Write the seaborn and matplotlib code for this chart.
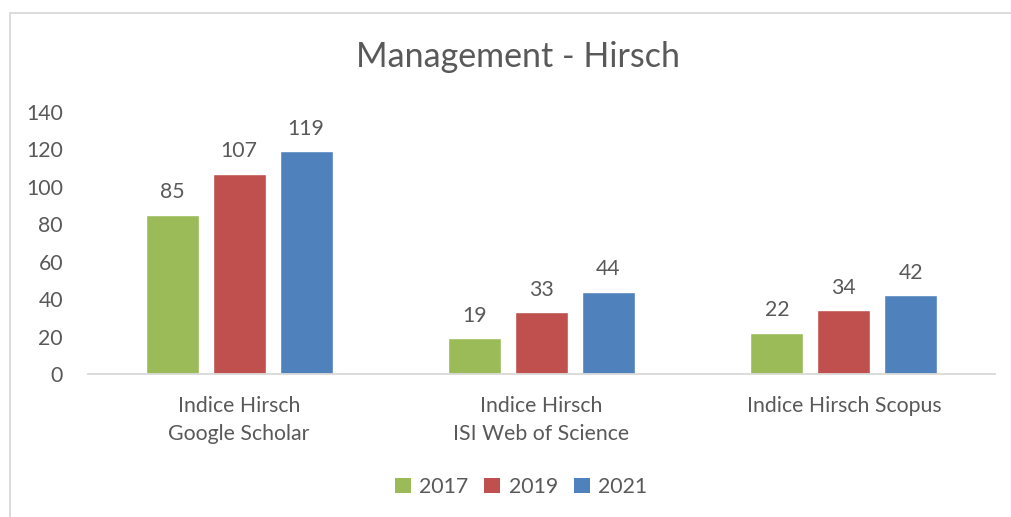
import matplotlib
matplotlib.use("Agg")
import matplotlib.pyplot as plt
import seaborn as sns
import pandas as pd
from matplotlib.patches import Rectangle, Patch

categories = ["Indice Hirsch\nGoogle Scholar", "Indice Hirsch\nISI Web of Science", "Indice Hirsch Scopus"]
years = ["2017", "2019", "2021"]
values_2017 = [85, 19, 22]
values_2019 = [107, 33, 34]
values_2021 = [119, 44, 42]
yticks = [0, 20, 40, 60, 80, 100, 120, 140]
title = "Management - Hirsch"

colors = ["#9BBB59", "#C0504D", "#4F81BD"]
text_color = "#595959"

rows = []
for yr, vals in zip(years, [values_2017, values_2019, values_2021]):
    for c, v in zip(categories, vals):
        rows.append({"cat": c, "year": yr, "val": v})
df = pd.DataFrame(rows)

sns.set_style("white")
plt.rcParams['font.family'] = ['Lato', 'DejaVu Sans']

W, H = 1011, 517
fs = 15.3
fig = plt.figure(figsize=(W / 100, H / 100), dpi=100)
fig.patches.append(Rectangle((10 / W, -0.1), 1.2, (H - 13) / H + 0.1, transform=fig.transFigure,
                             fill=False, edgecolor="#D9D9D9", linewidth=1.3))

ax = fig.add_axes([88 / W, (H - 374) / H, 907 / W, (374 - 112) / H])
sns.barplot(data=df, x="cat", y="val", hue="year", palette=colors, width=0.665, gap=0.21,
            ax=ax, saturation=1, legend=False)
ax.set_ylim(0, 140)
ax.set_xlim(-0.5, 2.5)
ax.set_yticks(yticks)
ax.set_yticklabels([str(t) for t in yticks], fontsize=fs, color=text_color)
ax.tick_params(axis="y", length=0, pad=18)
ax.tick_params(axis="x", length=0, pad=16, labelsize=fs, labelcolor=text_color)
ax.set_xlabel("")
ax.set_ylabel("")
for s in ["top", "right", "left"]:
    ax.spines[s].set_visible(False)
ax.spines["bottom"].set_color("#D9D9D9")
ax.spines["bottom"].set_linewidth(1.3)
for lbl in ax.get_xticklabels():
    lbl.set_linespacing(1.5)

for cont in ax.containers:
    ax.bar_label(cont, fmt="%d", padding=9, fontsize=fs, color=text_color)

fig.text(518 / W, 1 - 57 / H, title, ha="center", va="center", fontsize=24.5, color=text_color)

handles = [Patch(facecolor=c, edgecolor="none") for c in colors]
fig.legend(handles, years, loc="center", bbox_to_anchor=(521 / W, 1 - 487 / H), ncol=3,
           frameon=False, fontsize=fs, labelcolor=text_color, handlelength=0.75, handleheight=0.75,
           handletextpad=0.4, columnspacing=0.75)

fig.savefig("out.png", dpi=100)
